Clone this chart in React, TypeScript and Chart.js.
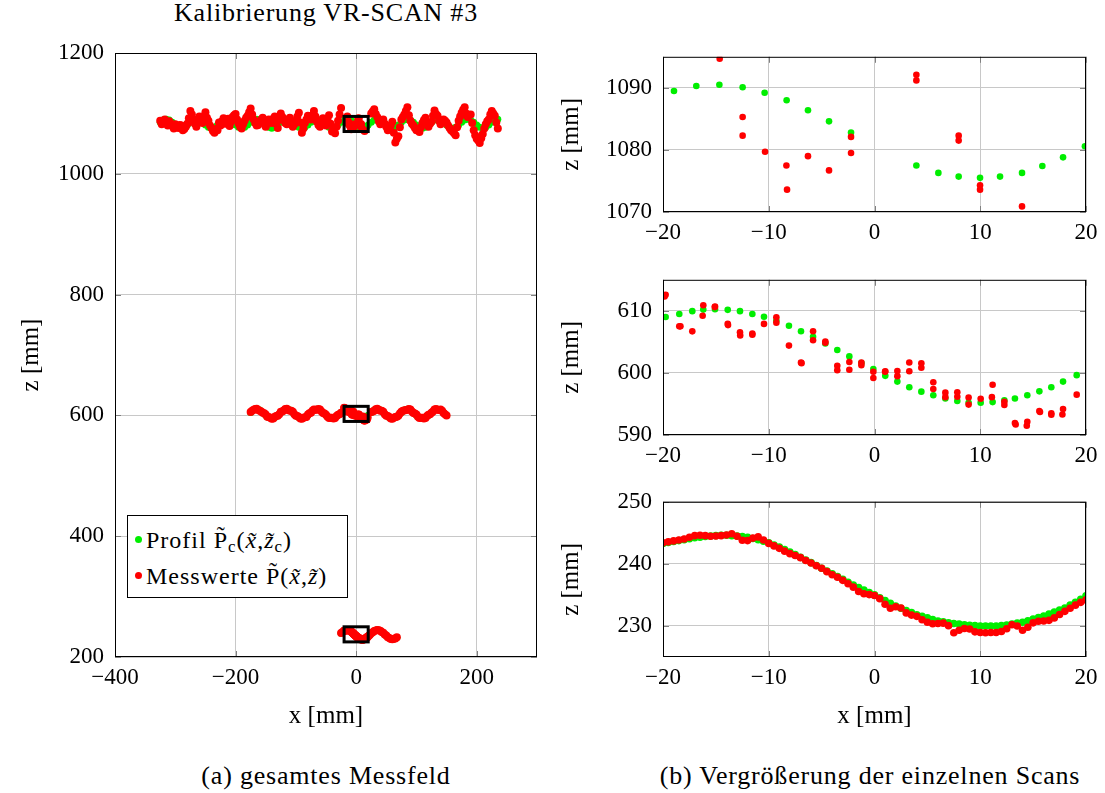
import React, { useEffect, useRef } from "react";
import { Chart, registerables } from "chart.js";

Chart.register(...registerables);

// ---------------- text ----------------
const TITLE = "Kalibrierung VR-SCAN #3";
const CAPTION_A = "(a) gesamtes Messfeld";
const CAPTION_B = "(b) Vergrößerung der einzelnen Scans";
const X_TITLE = "x [mm]";
const Y_TITLE = "z [mm]";

// ---------------- zoom windows ----------------
const ZOOM_X = [-20, 20];
const ZOOM_Z_TOP = [1070, 1095];
const ZOOM_Z_MID = [590, 615];
const ZOOM_Z_BOT = [225, 250];

// ---------------- top scan (zoom window) ----------------
const TOP_PROFIL_X = [-18.96, -16.85, -14.67, -12.47, -10.39, -8.31, -6.29, -4.3, -2.22, 3.96, 6.04, 7.96, 9.98, 11.87, 13.95, 15.87, 17.83, 19.9];
const TOP_PROFIL_Z = [1089.5, 1090.3, 1090.5, 1090.1, 1089.2, 1088.0, 1086.4, 1084.6, 1082.8, 1077.5, 1076.3, 1075.7, 1075.5, 1075.7, 1076.3, 1077.4, 1078.8, 1080.6];
const TOP_MESS_X = [-14.64, -12.47, -12.47, -10.35, -8.33, -8.27, -6.29, -4.3, -2.22, -2.22, 3.96, 3.96, 7.96, 7.96, 9.98, 9.98, 13.95];
const TOP_MESS_Z = [1094.7, 1085.3, 1082.3, 1079.7, 1077.5, 1073.6, 1079.0, 1076.7, 1082.1, 1079.5, 1092.1, 1091.2, 1082.3, 1081.5, 1074.3, 1073.6, 1070.9];

// ---------------- middle scan (zoom window) ----------------
const MID_PROFIL_X = [-19.75, -18.46, -17.23, -16.19, -15.08, -13.88, -12.72, -11.55, -10.45, -9.28, -8.09, -6.95, -5.81, -4.65, -3.52, -2.38, -1.24, -0.11, 1.02, 2.16, 3.29, 4.43, 5.56, 6.7, 7.83, 8.9, 10.04, 11.17, 12.28, 13.28, 14.45, 15.59, 16.72, 17.83, 19.12];
const MID_PROFIL_Z = [609.0, 609.5, 609.95, 610.2, 610.26, 610.16, 609.95, 609.5, 609.06, 608.44, 607.6, 606.72, 605.83, 604.74, 603.7, 602.66, 601.6, 600.63, 599.53, 598.6, 597.7, 596.98, 596.4, 595.89, 595.47, 595.2, 595.2, 595.3, 595.57, 595.89, 596.4, 597.03, 597.7, 598.6, 599.64];
const MID_MESS_X = [-19.75, -19.85, -18.46, -18.35, -17.23, -16.19, -16.25, -15.08, -15.1, -13.88, -13.85, -12.72, -12.7, -11.55, -11.55, -10.45, -9.28, -9.28, -8.09, -6.95, -6.9, -5.81, -5.81, -4.65, -4.65, -3.52, -3.52, -2.38, -2.38, -1.24, -1.24, -0.11, -0.11, 1.02, 1.0, 2.16, 2.16, 3.29, 3.29, 4.43, 4.43, 5.56, 5.56, 6.7, 6.7, 7.83, 7.83, 8.9, 8.9, 10.04, 11.17, 11.1, 12.28, 12.28, 13.28, 13.35, 14.45, 14.4, 15.59, 15.65, 16.72, 16.72, 17.83, 17.77, 19.12];
const MID_MESS_Z = [612.6, 612.3, 607.5, 607.5, 606.7, 610.9, 609.2, 610.7, 610.6, 607.9, 607.7, 606.56, 606.04, 606.35, 606.15, 607.9, 608.96, 608.1, 604.4, 601.67, 601.57, 606.72, 605.26, 605.05, 604.85, 601.15, 600.42, 601.77, 600.52, 601.67, 601.25, 600.2, 599.17, 600.26, 600.2, 600.31, 599.48, 601.67, 600.26, 601.56, 600.83, 598.49, 597.4, 596.82, 596.1, 596.88, 596.15, 596.04, 594.9, 595.83, 598.1, 596.1, 595.36, 594.84, 591.93, 591.7, 592.14, 591.5, 593.85, 593.7, 593.5, 593.25, 594.2, 593.3, 596.5];

// ---------------- bottom scan (zoom window, 0.5 mm grid from -20) ----------------
const BOT_X_START = -20;
const BOT_X_STEP = 0.5;
const BOT_PROFIL_Z = [
  243.3, 243.45, 243.6, 243.75, 243.9, 244.05, 244.2, 244.3, 244.4, 244.5,
  244.55, 244.6, 244.6, 244.55, 244.5, 244.4, 244.3, 244.1, 243.9, 243.65,
  243.4, 243.05, 242.7, 242.3, 241.9, 241.5, 241.05, 240.6, 240.2, 239.75,
  239.3, 238.85, 238.4, 237.95, 237.5, 237.05, 236.6, 236.2, 235.8, 235.4,
  235.0, 234.55, 234.1, 233.65, 233.2, 232.85, 232.5, 232.15, 231.8, 231.55,
  231.3, 231.05, 230.8, 230.65, 230.5, 230.4, 230.3, 230.2, 230.1, 230.05,
  230.0, 230.0, 230.0, 230.0, 230.05, 230.15, 230.3, 230.45, 230.6, 230.85,
  231.1, 231.35, 231.6, 231.9, 232.25, 232.55, 232.9, 233.35, 233.8, 234.3,
  234.85,
];
const BOT_MESS_Z = [
  243.4, 243.55, 243.7, 243.85, 244.0, 244.3, 244.55, 244.6, 244.55, 244.45,
  244.5, 244.55, 244.65, 244.85, 244.45, 243.8, 243.75, 244.15, 244.35, 243.85,
  243.3, 242.9, 242.5, 242.05, 241.65, 241.35, 241.0, 240.55, 240.15, 239.7,
  239.3, 238.75, 238.25, 237.85, 237.35, 236.8, 236.25, 235.55, 235.2, 235.05,
  234.9, 234.4, 233.5, 232.85, 233.1, 232.9, 232.1, 231.75, 231.55, 231.0,
  230.6, 230.35, 230.4, 230.45, 230.05, 228.9, 229.3, 229.6, 229.5, 229.05,
  228.95, 228.9, 228.95, 228.95, 229.1, 229.55, 230.2, 230.0, 229.3, 229.8,
  230.5, 230.75, 230.8, 230.9, 231.3, 231.85, 232.35, 232.85, 233.35, 233.8,
  234.2,
];

// ---------------- overview (outside the zoom windows, regular sampling grid) ----------------
const OV_TOP_LEFT_START = -325;
const OV_TOP_LEFT_B_START = -322.5;
const OV_TOP_RIGHT_START = 25;
const OV_TOP_RIGHT_B_START = 27.5;
const OV_TOP_STEP = 5;
const OV_TOP_MESS_LEFT = [
  1088, 1086, 1084, 1087, 1079, 1082, 1076, 1080, 1074, 1083,
  1104, 1090, 1078, 1095, 1084, 1102, 1088, 1076, 1068, 1072,
  1080, 1092, 1086, 1079, 1094, 1099, 1083, 1075, 1088, 1096,
  1108, 1090, 1080, 1086, 1093, 1078, 1090, 1084, 1095, 1076,
  1100, 1089, 1082, 1093, 1078, 1088, 1101, 1068, 1084, 1096,
  1090, 1104, 1086, 1078, 1092, 1080, 1097, 1070, 1067, 1088,
  1109,
];
const OV_TOP_MESS_LEFT_B = [
  1082, 1090, 1080, 1083, 1075, 1078, 1081, 1072, 1078, 1092,
  1098, 1083, 1086, 1089, 1094, 1093, 1080, 1071, 1074, 1085,
  1087, 1083, 1091, 1086, 1097, 1090, 1078, 1082, 1093, 1102,
  1098, 1084, 1081, 1090, 1085, 1083, 1087, 1091, 1083, 1089,
  1094, 1084, 1088, 1085, 1082, 1095, 1085, 1075, 1090, 1093,
  1097, 1095, 1081, 1085, 1086, 1089, 1083, 1073, 1078, 1098,
];
const OV_TOP_MESS_RIGHT = [
  1100, 1107, 1094, 1082, 1090, 1078, 1074, 1086, 1052, 1062,
  1090, 1098, 1110, 1088, 1080, 1072, 1069, 1084, 1093, 1078,
  1086, 1105, 1096, 1082, 1090, 1085, 1076, 1070, 1064, 1088,
  1101, 1110, 1094, 1098, 1072, 1058, 1051, 1066, 1082, 1090,
  1104, 1096, 1075,
];
const OV_TOP_MESS_RIGHT_B = [
  1103, 1099, 1087, 1085, 1083, 1072, 1080, 1068, 1058, 1077,
  1094, 1104, 1097, 1083, 1076, 1074, 1077, 1089, 1085, 1083,
  1096, 1099, 1088, 1087, 1088, 1080, 1072, 1067, 1077, 1095,
  1106, 1100, 1097, 1084, 1064, 1055, 1059, 1075, 1087, 1098,
  1100, 1085,
];
const OV_TOP_PROFIL_LEFT = [
  1085.3, 1089.1, 1090.5, 1089.1, 1085.3, 1080.7, 1076.9, 1075.5, 1076.9, 1080.7,
  1085.3, 1089.1, 1090.5, 1089.1, 1085.3, 1080.7, 1076.9, 1075.5, 1076.9, 1080.7,
  1085.3, 1089.1, 1090.5, 1089.1, 1085.3, 1080.7, 1076.9, 1075.5, 1076.9, 1080.7,
  1085.3, 1089.1, 1090.5, 1089.1, 1085.3, 1080.7, 1076.9, 1075.5, 1076.9, 1080.7,
  1085.3, 1089.1, 1090.5, 1089.1, 1085.3, 1080.7, 1076.9, 1075.5, 1076.9, 1080.7,
  1085.3, 1089.1, 1090.5, 1089.1, 1085.3, 1080.7, 1076.9, 1075.5, 1076.9, 1080.7,
  1085.3,
];
const OV_TOP_PROFIL_RIGHT = [
  1085.3, 1089.1, 1090.5, 1089.1, 1085.3, 1080.7, 1076.9, 1075.5, 1076.9, 1080.7,
  1085.3, 1089.1, 1090.5, 1089.1, 1085.3, 1080.7, 1076.9, 1075.5, 1076.9, 1080.7,
  1085.3, 1089.1, 1090.5, 1089.1, 1085.3, 1080.7, 1076.9, 1075.5, 1076.9, 1080.7,
  1085.3, 1089.1, 1090.5, 1089.1, 1085.3, 1080.7, 1076.9, 1075.5, 1076.9, 1080.7,
  1085.3, 1089.1, 1090.5,
];

const OV_MID_LEFT_START = -175;
const OV_MID_LEFT_B_START = -172.5;
const OV_MID_RIGHT_START = 25;
const OV_MID_RIGHT_B_START = 27.5;
const OV_MID_STEP = 5;
const OV_MID_PROFIL_LEFT = [
  605.0, 608.8, 610.2, 608.8, 605.0, 600.4, 596.6, 595.2, 596.6, 600.4,
  605.0, 608.8, 610.2, 608.8, 605.0, 600.4, 596.6, 595.2, 596.6, 600.4,
  605.0, 608.8, 610.2, 608.8, 605.0, 600.4, 596.6, 595.2, 596.6, 600.4,
  605.0,
];
const OV_MID_PROFIL_RIGHT = [
  605.0, 608.8, 610.2, 608.8, 605.0, 600.4, 596.6, 595.2, 596.6, 600.4,
  605.0, 608.8, 610.2, 608.8, 605.0, 600.4, 596.6, 595.2, 596.6, 600.4,
  605.0, 608.8, 610.2, 608.8, 605.0, 600.4,
];
const OV_MID_MESS_LEFT = [
  605.8, 609.5, 611.0, 607.6, 604.2, 601.5, 597.3, 594.6, 597.8, 599.6,
  606.1, 608.1, 611.2, 607.9, 606.0, 599.5, 597.5, 594.3, 597.1, 601.3,
  604.2, 609.6, 609.4, 609.8, 604.1, 601.2, 595.9, 596.0, 595.8, 601.2,
  604.3,
];
const OV_MID_MESS_LEFT_B = [
  607.9, 610.4, 608.9, 606.5, 603.6, 597.6, 596.3, 594.8, 599.1, 601.8,
  606.3, 610.6, 609.1, 607.8, 601.9, 598.9, 594.9, 596.2, 597.5, 603.4,
  607.6, 609.2, 610.5, 606.4, 603.3, 597.7, 596.1, 594.9, 598.9, 602.1,
];
const OV_MID_MESS_RIGHT = [
  605.8, 607.9, 611.1, 607.7, 605.9, 599.6, 597.4, 594.4, 597.5, 599.5,
  605.9, 608.0, 609.4, 609.7, 604.1, 601.3, 595.8, 596.1, 595.9, 601.2,
  604.2, 609.7, 609.5, 609.6, 604.1, 600.0,
];
const OV_MID_MESS_RIGHT_B = [
  606.5, 610.3, 609.2, 607.7, 602.0, 598.8, 595.0, 596.3, 597.6, 603.3,
  607.7, 609.1, 610.4, 606.5, 603.2, 597.8, 596.2, 594.9, 599.0, 602.0,
  606.4, 610.5, 609.0, 607.6, 602.1,
];

const OV_BOT_LEFT_START = -25;
const OV_BOT_RIGHT_START = 22.5;
const OV_BOT_STEP = 2.5;
const OV_BOT_PROFIL_LEFT = [239.3, 241.5];
const OV_BOT_MESS_LEFT = [239.6, 241.2];
const OV_BOT_PROFIL_RIGHT = [236.6, 239.0, 241.1, 242.9, 244.1, 244.6, 244.4, 243.4, 241.9, 239.9, 237.6, 235.2, 233.1, 231.3, 230.1, 229.6, 229.8, 230.8, 232.3];
const OV_BOT_MESS_RIGHT = [236.3, 239.4, 240.8, 243.2, 244.0, 244.9, 244.1, 243.6, 241.5, 240.2, 237.2, 235.5, 232.8, 231.6, 229.8, 229.2, 230.1, 230.5, 232.6];

// ---------------- styles ----------------
const FONT = "'Liberation Serif', 'Times New Roman', serif";
const TICK_SIZE = 23;
const TEXT_SIZE = 25;
const GREEN = "#00ee00";
const RED = "#ff0000";
const GRID = "#c8c8c8";
const TICK_MARK = "#808080";

type P = { x: number; y: number };
const pts = (xs: number[], zs: number[]): P[] => xs.map((x, i) => ({ x, y: zs[i] }));
const gridX = (start: number, step: number, n: number) => Array.from({ length: n }, (_, i) => start + i * step);
const fromGrid = (start: number, step: number, zs: number[]): P[] => pts(gridX(start, step, zs.length), zs);
const fmt = (v: number | string) => String(v).replace("-", "\u2212");

type Rect = { x: number[]; z: number[] };

function framePlugin(rects: Rect[]) {
  return {
    id: "frame",
    afterDatasetsDraw(chart: any) {
      const { ctx, chartArea: a, scales } = chart;
      const sx = scales.x;
      const sy = scales.y;
      ctx.save();
      ctx.strokeStyle = TICK_MARK;
      ctx.lineWidth = 1;
      ctx.beginPath();
      sx.ticks.forEach((t: any) => {
        const p = Math.round(sx.getPixelForValue(t.value)) + 0.5;
        ctx.moveTo(p, a.top);
        ctx.lineTo(p, a.top + 6);
        ctx.moveTo(p, a.bottom);
        ctx.lineTo(p, a.bottom - 6);
      });
      sy.ticks.forEach((t: any) => {
        const p = Math.round(sy.getPixelForValue(t.value)) + 0.5;
        ctx.moveTo(a.left, p);
        ctx.lineTo(a.left + 6, p);
        ctx.moveTo(a.right, p);
        ctx.lineTo(a.right - 6, p);
      });
      ctx.stroke();
      ctx.strokeStyle = "#000";
      ctx.lineWidth = 3;
      rects.forEach((r) => {
        const x1 = sx.getPixelForValue(r.x[0]);
        const x2 = sx.getPixelForValue(r.x[1]);
        const y1 = sy.getPixelForValue(r.z[1]);
        const y2 = sy.getPixelForValue(r.z[0]);
        ctx.strokeRect(x1, y1, x2 - x1, y2 - y1);
      });
      ctx.lineWidth = 1;
      ctx.strokeRect(a.left + 0.5, a.top + 0.5, a.right - a.left - 1, a.bottom - a.top - 1);
      ctx.restore();
    },
  };
}

type Spec = {
  profil: P[];
  mess: P[];
  radius: number;
  profilRadius: number;
  xr: number[];
  xStep: number;
  zr: number[];
  zStep: number;
  yAxisWidth: number;
  yTitlePad: number;
  xAxisHeight: number;
  xTitle: boolean;
  padTop: number;
  padRight: number;
  rects: Rect[];
};

function makeConfig(s: Spec): any {
  const tickFont = { family: FONT, size: TICK_SIZE };
  return {
    type: "scatter",
    data: {
      datasets: [
        {
          label: "Messwerte",
          data: s.mess,
          backgroundColor: RED,
          borderWidth: 0,
          pointRadius: s.radius,
          pointHoverRadius: s.radius,
          order: 0,
        },
        {
          label: "Profil",
          data: s.profil,
          backgroundColor: GREEN,
          borderWidth: 0,
          pointRadius: s.profilRadius,
          pointHoverRadius: s.profilRadius,
          order: 1,
        },
      ],
    },
    options: {
      animation: false,
      responsive: false,
      maintainAspectRatio: false,
      events: [],
      layout: { padding: { top: s.padTop, right: s.padRight, left: 0, bottom: 0 } },
      plugins: { legend: { display: false }, tooltip: { enabled: false }, title: { display: false } },
      scales: {
        x: {
          type: "linear",
          min: s.xr[0],
          max: s.xr[1],
          ticks: {
            stepSize: s.xStep,
            includeBounds: false,
            autoSkip: false,
            maxRotation: 0,
            padding: 7,
            color: "#000",
            font: tickFont,
            callback: (v: number) => fmt(v),
          },
          grid: { color: GRID, lineWidth: 1, drawTicks: false },
          border: { display: false },
          title: {
            display: s.xTitle,
            text: X_TITLE,
            color: "#000",
            font: { family: FONT, size: TEXT_SIZE },
            padding: { top: 0, bottom: 6 },
          },
          afterFit: (sc: any) => {
            sc.height = s.xAxisHeight;
          },
        },
        y: {
          type: "linear",
          min: s.zr[0],
          max: s.zr[1],
          ticks: {
            stepSize: s.zStep,
            includeBounds: false,
            autoSkip: false,
            padding: 11,
            color: "#000",
            font: tickFont,
            callback: (v: number) => fmt(v),
          },
          grid: { color: GRID, lineWidth: 1, drawTicks: false },
          border: { display: false },
          title: {
            display: true,
            text: Y_TITLE,
            color: "#000",
            font: { family: FONT, size: TEXT_SIZE },
            padding: { top: s.yTitlePad, bottom: 0 },
          },
          afterFit: (sc: any) => {
            sc.width = s.yAxisWidth;
          },
        },
      },
    },
    plugins: [framePlugin(s.rects)],
  };
}

function ChartBox(props: { left: number; top: number; width: number; height: number; spec: Spec }) {
  const ref = useRef<HTMLCanvasElement>(null);
  useEffect(() => {
    const chart = new Chart(ref.current as HTMLCanvasElement, makeConfig(props.spec));
    return () => chart.destroy();
  }, []);
  const { left, top, width, height } = props;
  return (
    <div style={{ position: "absolute", left, top, width, height }}>
      <canvas ref={ref} width={width} height={height} style={{ display: "block", width, height }} />
    </div>
  );
}

// ---------------- datasets ----------------
const botX = gridX(BOT_X_START, BOT_X_STEP, BOT_PROFIL_Z.length);

const overviewProfil: P[] = [
  ...fromGrid(OV_TOP_LEFT_START, OV_TOP_STEP, OV_TOP_PROFIL_LEFT),
  ...pts(TOP_PROFIL_X, TOP_PROFIL_Z),
  ...fromGrid(OV_TOP_RIGHT_START, OV_TOP_STEP, OV_TOP_PROFIL_RIGHT),
  ...fromGrid(OV_MID_LEFT_START, OV_MID_STEP, OV_MID_PROFIL_LEFT),
  ...pts(MID_PROFIL_X, MID_PROFIL_Z),
  ...fromGrid(OV_MID_RIGHT_START, OV_MID_STEP, OV_MID_PROFIL_RIGHT),
  ...fromGrid(OV_BOT_LEFT_START, OV_BOT_STEP, OV_BOT_PROFIL_LEFT),
  ...pts(botX, BOT_PROFIL_Z),
  ...fromGrid(OV_BOT_RIGHT_START, OV_BOT_STEP, OV_BOT_PROFIL_RIGHT),
];
const overviewMess: P[] = [
  ...fromGrid(OV_TOP_LEFT_START, OV_TOP_STEP, OV_TOP_MESS_LEFT),
  ...fromGrid(OV_TOP_LEFT_B_START, OV_TOP_STEP, OV_TOP_MESS_LEFT_B),
  ...pts(TOP_MESS_X, TOP_MESS_Z),
  ...fromGrid(OV_TOP_RIGHT_START, OV_TOP_STEP, OV_TOP_MESS_RIGHT),
  ...fromGrid(OV_TOP_RIGHT_B_START, OV_TOP_STEP, OV_TOP_MESS_RIGHT_B),
  ...fromGrid(OV_MID_LEFT_START, OV_MID_STEP, OV_MID_MESS_LEFT),
  ...fromGrid(OV_MID_LEFT_B_START, OV_MID_STEP, OV_MID_MESS_LEFT_B),
  ...pts(MID_MESS_X, MID_MESS_Z),
  ...fromGrid(OV_MID_RIGHT_START, OV_MID_STEP, OV_MID_MESS_RIGHT),
  ...fromGrid(OV_MID_RIGHT_B_START, OV_MID_STEP, OV_MID_MESS_RIGHT_B),
  ...fromGrid(OV_BOT_LEFT_START, OV_BOT_STEP, OV_BOT_MESS_LEFT),
  ...pts(botX, BOT_MESS_Z),
  ...fromGrid(OV_BOT_RIGHT_START, OV_BOT_STEP, OV_BOT_MESS_RIGHT),
];

const LEFT_SPEC: Spec = {
  profil: overviewProfil,
  mess: overviewMess,
  radius: 4,
  profilRadius: 3.5,
  xr: [-400, 300],
  xStep: 200,
  zr: [200, 1200],
  zStep: 200,
  yAxisWidth: 115,
  yTitlePad: 16,
  xAxisHeight: 80,
  xTitle: true,
  padTop: 53,
  padRight: 23,
  rects: [
    { x: ZOOM_X, z: ZOOM_Z_TOP },
    { x: ZOOM_X, z: ZOOM_Z_MID },
    { x: ZOOM_X, z: ZOOM_Z_BOT },
  ],
};

const rightSpec = (profil: P[], mess: P[], zr: number[], last: boolean, radius: number): Spec => ({
  profil,
  mess,
  radius,
  profilRadius: radius,
  xr: ZOOM_X,
  xStep: 10,
  zr,
  zStep: 10,
  yAxisWidth: 118,
  yTitlePad: 11,
  xAxisHeight: last ? 80 : 40,
  xTitle: last,
  padTop: 20,
  padRight: 19,
  rects: [],
});

const TOP_SPEC = rightSpec(pts(TOP_PROFIL_X, TOP_PROFIL_Z), pts(TOP_MESS_X, TOP_MESS_Z), ZOOM_Z_TOP, false, 3.3);
const MID_SPEC = rightSpec(pts(MID_PROFIL_X, MID_PROFIL_Z), pts(MID_MESS_X, MID_MESS_Z), ZOOM_Z_MID, false, 3.3);
const BOT_SPEC = rightSpec(pts(botX, BOT_PROFIL_Z), pts(botX, BOT_MESS_Z), ZOOM_Z_BOT, true, 3.8);

const textStyle: React.CSSProperties = {
  position: "absolute",
  fontFamily: FONT,
  fontSize: 26,
  letterSpacing: "0.8px",
  color: "#000",
  textAlign: "center",
  lineHeight: "26px",
  whiteSpace: "nowrap",
};
const subStyle: React.CSSProperties = { fontSize: "0.7em", verticalAlign: "-0.25em", lineHeight: 0 };

function Legend() {
  const dot = (c: string): React.CSSProperties => ({
    position: "absolute",
    left: 7,
    top: 14,
    width: 7,
    height: 7,
    borderRadius: "50%",
    background: c,
  });
  const row: React.CSSProperties = { position: "absolute", left: 0, height: 36, width: "100%" };
  const txt: React.CSSProperties = { position: "absolute", left: 18, top: 0, lineHeight: "36px", whiteSpace: "nowrap" };
  return (
    <div
      style={{
        position: "absolute",
        left: 127,
        top: 515,
        width: 221,
        height: 83,
        boxSizing: "border-box",
        border: "1px solid #000",
        background: "#fff",
        fontFamily: FONT,
        fontSize: 24,
        letterSpacing: "1px",
        color: "#000",
      }}
    >
      <div style={{ ...row, top: 6 }}>
        <span style={dot(GREEN)} />
        <span style={txt}>
          Profil P&#771;<span style={subStyle}>c</span>(<i>x&#771;</i>,<i>z&#771;</i>
          <span style={subStyle}>c</span>)
        </span>
      </div>
      <div style={{ ...row, top: 42 }}>
        <span style={dot(RED)} />
        <span style={txt}>
          Messwerte P&#771;(<i>x&#771;</i>,<i>z&#771;</i>)
        </span>
      </div>
    </div>
  );
}

export default function App() {
  return (
    <div style={{ position: "absolute", left: 0, top: 0, width: 1105, height: 793, background: "#fff", overflow: "hidden" }}>
      <div style={{ ...textStyle, left: 0, top: 0, width: 652 }}>{TITLE}</div>
      <ChartBox left={0} top={0} width={560} height={737} spec={LEFT_SPEC} />
      <ChartBox left={545} top={32} width={560} height={220} spec={TOP_SPEC} />
      <ChartBox left={545} top={255} width={560} height={220} spec={MID_SPEC} />
      <ChartBox left={545} top={477} width={560} height={260} spec={BOT_SPEC} />
      <Legend />
      <div style={{ ...textStyle, left: 0, top: 763, width: 652 }}>{CAPTION_A}</div>
      <div style={{ ...textStyle, left: 570, top: 763, width: 600 }}>{CAPTION_B}</div>
    </div>
  );
}
